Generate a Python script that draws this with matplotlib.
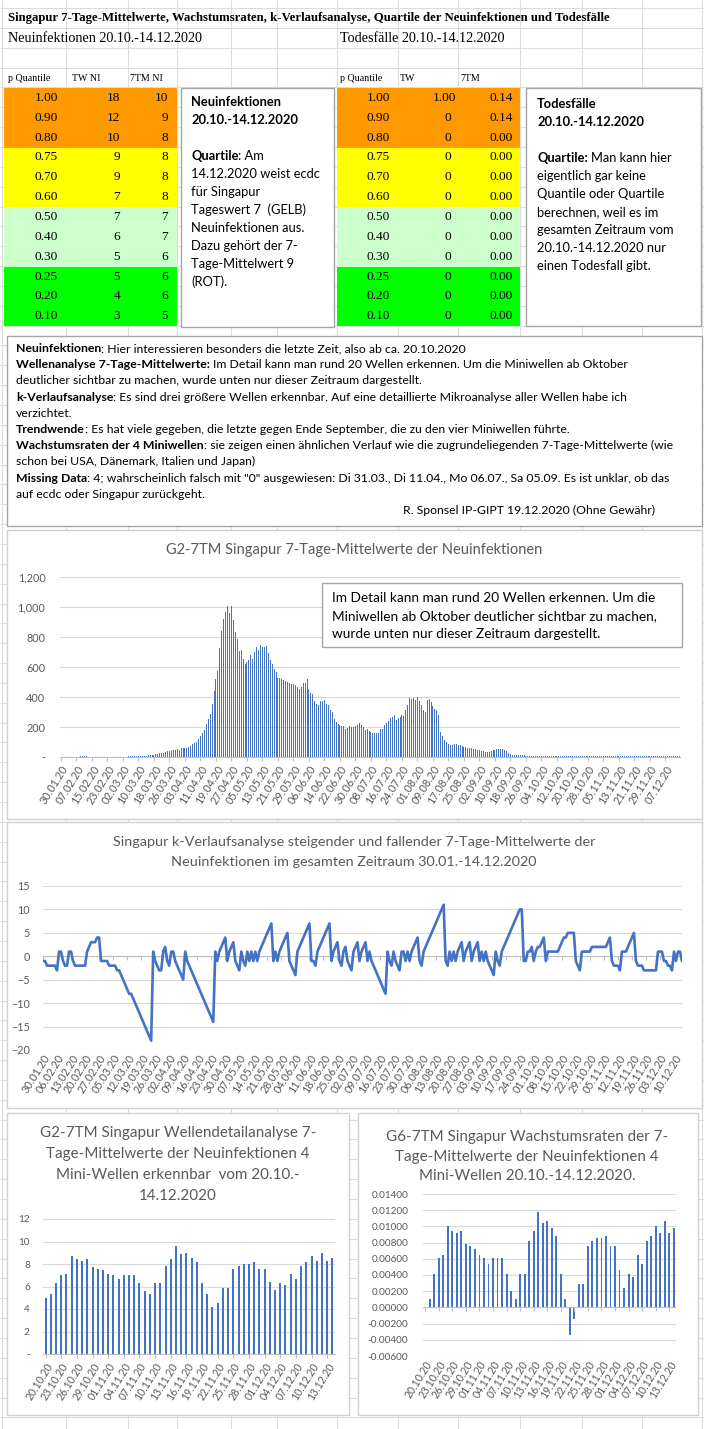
import numpy as np
import pandas as pd
import matplotlib
matplotlib.use('Agg')
import matplotlib.pyplot as plt
from matplotlib.patches import Rectangle

SANS = ['Lato', 'DejaVu Sans']
SERIF = ['Liberation Serif', 'DejaVu Serif']
plt.rcParams['font.family'] = SANS

BLUE = '#4472C4'
GRID = '#D9D9D9'
TXT = '#595959'
AXLINE = '#BFBFBF'

# ---------------- data ----------------
# quantile tables
p_quant = [1.00, 0.90, 0.80, 0.75, 0.70, 0.60, 0.50, 0.40, 0.30, 0.25, 0.20, 0.10]
tw_ni = [18, 12, 10, 9, 9, 7, 7, 6, 5, 5, 4, 3]
tm7_ni = [10, 9, 8, 8, 8, 8, 7, 7, 6, 6, 6, 5]
tw_death = ['1.00', '0', '0', '0', '0', '0', '0', '0', '0', '0', '0', '0']
tm7_death = [0.14, 0.14, 0.00, 0.00, 0.00, 0.00, 0.00, 0.00, 0.00, 0.00, 0.00, 0.00]
band_colors = ['#FF9900'] * 3 + ['#FFFF00'] * 3 + ['#CCFFCC'] * 3 + ['#00FF00'] * 3

# 7-Tage-Mittelwerte 30.01. - 19.10.2020
tm7_early = [
    2, 2, 2, 2, 3, 3, 3, 3, 3, 3,
    4, 4, 4, 4, 3, 3, 3, 3, 3, 2,
    2, 2, 2, 2, 1, 1, 1, 1, 1, 1,
    2, 2, 2, 2, 3, 4, 4, 5, 5, 6,
    9, 9, 10, 10, 10, 11, 11, 12, 15, 18,
    22, 25, 28, 30, 33, 37, 40, 45, 48, 50,
    52, 50, 58, 62, 60, 58, 68, 75, 85, 95,
    100, 120, 140, 157, 179, 221, 251, 289, 353, 438,
    518, 573, 724, 840, 918, 967, 1007, 960, 1007, 911,
    836, 784, 707, 711, 651, 622, 633, 644, 678, 656,
    700, 733, 711, 747, 733, 736, 740, 696, 650, 620,
    590, 565, 530, 528, 520, 512, 506, 503, 492, 485,
    485, 481, 464, 455, 470, 492, 496, 520, 451, 428,
    421, 374, 353, 349, 374, 374, 379, 353, 349, 315,
    298, 251, 234, 219, 215, 210, 204, 187, 194, 204,
    200, 198, 208, 215, 226, 213, 200, 179, 187, 172,
    166, 162, 162, 162, 162, 187, 187, 215, 230, 243,
    257, 268, 281, 247, 257, 264, 277, 272, 315, 349,
    391, 385, 396, 379, 400, 374, 349, 311, 300, 379,
    385, 364, 343, 321, 315, 283, 166, 140, 115, 100,
    90, 82, 80, 85, 85, 82, 78, 72, 68, 65,
    62, 60, 58, 55, 52, 48, 45, 42, 38, 35,
    35, 36, 40, 45, 50, 55, 56, 56, 54, 50,
    40, 28, 20, 16, 14, 13, 12, 12, 11, 11,
    10, 10, 10, 9, 9, 9, 8, 8, 8, 8,
    8, 7, 7, 7, 7, 6, 6, 5, 5, 4,
    4, 4, 4, 5,
]
# 7-Tage-Mittelwerte 20.10. - 14.12.2020
tm7_oct_dec = [
    5.00, 5.29, 6.29, 7.00, 7.14, 8.71, 8.43, 8.29, 8.43, 7.71,
    7.57, 7.43, 7.14, 7.00, 6.71, 7.00, 7.00, 7.00, 6.29, 5.57,
    5.29, 6.29, 6.29, 7.86, 8.43, 9.57, 8.86, 9.00, 8.57, 8.14,
    6.29, 5.29, 4.14, 4.57, 5.86, 5.86, 7.57, 7.86, 8.00, 8.00,
    8.14, 7.57, 7.57, 6.43, 5.71, 6.29, 6.14, 7.14, 6.71, 7.86,
    8.14, 8.71, 8.29, 9.00, 8.29, 8.57,
]
# Wachstumsraten 20.10. - 14.12.2020
growth = [
    0.0, 0.00103, 0.00412, 0.00613, 0.00646, 0.01008, 0.00947, 0.00922, 0.00947, 0.00786,
    0.00761, 0.00724, 0.00646, 0.00613, 0.00539, 0.00613, 0.00613, 0.00613, 0.00412, 0.00202,
    0.00103, 0.00412, 0.00412, 0.00819, 0.00947, 0.01181, 0.01041, 0.01066, 0.00979, 0.00881,
    0.00412, 0.00103, -0.00342, -0.00148, 0.00288, 0.00288, 0.00757, 0.00819, 0.00860, 0.00860,
    0.00881, 0.00757, 0.00757, 0.00461, 0.00239, 0.00412, 0.00374, 0.00646, 0.00539, 0.00819,
    0.00881, 0.01008, 0.00922, 0.01066, 0.00922, 0.00979,
]
# k-Verlaufsanalyse 30.01. - 14.12.2020
k_values = [
    -1, -1, -2, -2, -2, -2, -2, -3, 1, 1,
    -1, -2, -2, 1, 1, -1, -2, -2, -2, -2,
    -2, -2, 1, 2, 3, 3, 3, 4, 4, -1,
    -1, -1, -1, -2, -2, -2, -2, -3, -3, -4,
    -5, -6, -7, -8, -8, -9, -10, -11, -12, -13,
    -14, -15, -16, -17, -18, 1, -1, -2, -3, -3,
    1, 2, -1, -2, 1, 1, -1, -2, -3, -4,
    -5, 1, -1, -2, -3, -4, -5, -6, -7, -8,
    -9, -10, -11, -12, -13, -14, 1, -1, 1, 2,
    3, 4, -1, 1, 2, 3, -1, -2, -3, 1,
    -1, -2, 1, -1, 1, -1, 1, -1, 1, 2,
    3, 4, 5, 6, 7, -1, 1, -1, 1, 2,
    3, 4, 5, -1, -2, -3, -4, 1, 2, 3,
    4, 5, 6, 7, -1, -1, -2, 1, 2, 3,
    4, 5, 6, 7, -1, 1, 2, 3, -1, -2,
    1, 2, -1, -2, -3, 1, 2, 3, -1, 1,
    2, 3, -1, 1, -1, -2, -3, -4, -5, -6,
    -7, -8, 1, -1, -2, 1, -1, -2, -3, 1,
    1, -1, 1, -1, 1, 2, 3, 4, -1, -2,
    1, 2, 3, 4, 5, 6, 7, 8, 9, 10,
    11, -1, -2, 1, -1, 1, -1, 1, 2, 3,
    -1, 1, 2, 3, -1, 1, 2, 3, -1, 1,
    -1, 1, -1, -2, -3, -4, 1, -1, -2, 1,
    2, 3, 4, 5, 6, 7, 8, 9, 10, 10,
    -1, -1, 1, 1, 2, -1, 1, 2, 2, 3,
    4, -1, 1, 1, 1, 1, 1, 1, 2, 3,
    4, 4, 5, 5, 5, 5, -1, -2, -3, 1,
    1, 1, 1, 1, 2, 2, 2, 2, 2, 2,
    2, 2, 3, 4, -1, -2, -2, -2, -3, 1,
    1, 1, 2, 3, 4, 5, -1, -2, -2, -2,
    -3, -3, -3, -3, -3, -3, -3, 1, 1, 1,
    -1, -1, -2, -2, -3, 1, -1, 1, 1, -1,
]
tm7_all = tm7_early + tm7_oct_dec
dates_all = pd.date_range('2020-01-30', '2020-12-14').strftime('%d.%m.%y').tolist()
dates_oct_dec = dates_all[-len(tm7_oct_dec):]

title_main = ('Singapur 7-Tage-Mittelwerte, Wachstumsraten, k-Verlaufsanalyse, '
              'Quartile der Neuinfektionen und Todesfälle')
note_lines = [
    [('Neuinfektionen', True), (': Hier interessieren besonders die letzte Zeit, also ab ca. 20.10.2020', False)],
    [('Wellenanalyse 7-Tage-Mittelwerte:', True), (' Im Detail kann man rund 20 Wellen erkennen. Um die Miniwellen ab Oktober', False)],
    [('deutlicher sichtbar zu machen, wurde unten nur dieser Zeitraum dargestellt.', False)],
    [('k-Verlaufsanalyse', True), (': Es sind drei größere Wellen erkennbar. Auf eine detaillierte Mikroanalyse aller Wellen habe ich', False)],
    [('verzichtet.', False)],
    [('Trendwende', True), (': Es hat viele gegeben, die letzte gegen Ende September, die zu den vier Miniwellen führte.', False)],
    [('Wachstumsraten der 4 Miniwellen', True), (': sie zeigen einen ähnlichen Verlauf wie die zugrundeliegenden 7-Tage-Mittelwerte (wie', False)],
    [('schon bei USA, Dänemark, Italien und Japan)', False)],
    [('Missing Data', True), (': 4; wahrscheinlich falsch mit "0" ausgewiesen: Di 31.03., Di 11.04., Mo 06.07., Sa 05.09. Es ist unklar, ob das', False)],
    [('auf ecdc oder Singapur zurückgeht.', False)],
]
left_box_lines = [
    [('Neuinfektionen', True)],
    [('20.10.-14.12.2020', True)],
    [],
    [('Quartile', True), (': Am', False)],
    [('14.12.2020 weist ecdc', False)],
    [('für Singapur', False)],
    [('Tageswert 7  (GELB)', False)],
    [('Neuinfektionen aus.', False)],
    [('Dazu gehört der 7-', False)],
    [('Tage-Mittelwert 9', False)],
    [('(ROT).', False)],
]
right_box_lines = [
    [('Todesfälle', True)],
    [('20.10.-14.12.2020', True)],
    [],
    [('Quartile:', True), (' Man kann hier', False)],
    [('eigentlich gar keine', False)],
    [('Quantile oder Quartile', False)],
    [('berechnen, weil es im', False)],
    [('gesamten Zeitraum vom', False)],
    [('20.10.-14.12.2020 nur', False)],
    [('einen Todesfall gibt.', False)],
]

# ---------------- figure ----------------
W, H = 704, 1429
fig = plt.figure(figsize=(W / 100, H / 100), dpi=100)
bg = fig.add_axes([0, 0, 1, 1])
bg.set_xlim(0, W)
bg.set_ylim(H, 0)
bg.axis('off')


def px_axes(x0, y0, x1, y1):
    return fig.add_axes([x0 / W, 1 - y1 / H, (x1 - x0) / W, (y1 - y0) / H])


# spreadsheet grid
col_lines = [2, 66, 128, 177, 231, 277, 337, 398, 458, 520, 582, 642, 702]
row_lines = np.arange(8, H, 19.85)
bg.vlines(col_lines, 0, H, color='#DCDCDC', lw=0.8, zorder=0)
bg.hlines(row_lines, 0, W, color='#DCDCDC', lw=0.8, zorder=0)

# coloured quantile tables
ROW0, ROWH = 88, 19.85
for k, c in enumerate(band_colors):
    for x0, x1 in [(4, 177), (337, 520)]:
        bg.add_patch(Rectangle((x0, ROW0 + k * ROWH), x1 - x0, ROWH, fc=c, ec='none', zorder=1))

# white boxes
for (x0, y0, x1, y1) in [(181, 88, 334, 327), (526, 88, 701, 326), (7, 336, 702, 526)]:
    bg.add_patch(Rectangle((x0, y0), x1 - x0, y1 - y0, fc='white', ec='#A6A6A6', lw=1, zorder=2))
for (x0, y0, x1, y1) in [(7, 530, 702, 819), (7, 822, 702, 1108), (7, 1113, 349, 1415), (358, 1113, 698, 1415)]:
    bg.add_patch(Rectangle((x0, y0), x1 - x0, y1 - y0, fc='white', ec='#D0D0D0', lw=1, zorder=2))

TICK_FS = 7.8


def style_axes(ax, ypad, fs=TICK_FS):
    for s in ['top', 'right', 'left']:
        ax.spines[s].set_visible(False)
    ax.spines['bottom'].set_color(AXLINE)
    ax.yaxis.grid(True, color=GRID, lw=0.8)
    ax.set_axisbelow(True)
    ax.tick_params(axis='y', length=0, pad=ypad, labelsize=fs, labelcolor=TXT)
    ax.tick_params(axis='x', length=3, color=AXLINE, labelsize=fs, labelcolor=TXT, pad=2)


def date_ticks(ax, pos, labels, fs=TICK_FS):
    ax.set_xticks(pos)
    ax.set_xticklabels(labels, rotation=58, ha='right', va='top', rotation_mode='anchor', fontsize=fs)


# ---- chart 1: 7-Tage-Mittelwerte gesamt ----
ax1 = px_axes(60, 577, 680, 757)
x1 = np.arange(len(tm7_all))
ax1.bar(x1, tm7_all, width=0.5, color=BLUE, linewidth=0)
ax1.set_xlim(-0.5, len(tm7_all) - 0.5)
ax1.set_ylim(0, 1200)
yt = list(range(0, 1201, 200))
ax1.set_yticks(yt)
ax1.set_yticklabels(['-' if v == 0 else f'{v:,}' for v in yt])
style_axes(ax1, 10.5)
date_ticks(ax1, x1[::8], dates_all[::8])

# ---- chart 2: k-Verlaufsanalyse ----
ax2 = px_axes(43, 886, 682, 1050)
x2 = np.arange(len(k_values))
ax2.plot(x2, k_values, color=BLUE, lw=1.9, solid_joinstyle='round')
ax2.set_xlim(0, len(k_values) - 1)
ax2.set_ylim(-20, 15)
ax2.set_yticks(range(-20, 16, 5))
style_axes(ax2, 9.5)
ax2.spines['bottom'].set_visible(False)
ax2.tick_params(axis='x', length=0)
date_ticks(ax2, x2[::7], dates_all[::7])
ax2.axhline(0, color=AXLINE, lw=0.8, zorder=1)
ax2.plot(x2[::7], np.zeros(len(x2[::7])), ls='none', marker=3, ms=3, mec=AXLINE, mew=0.8, zorder=1)

# ---- chart 3: Wellendetail ----
ax3 = px_axes(43, 1219, 335, 1354)
x3 = np.arange(len(tm7_oct_dec))
ax3.bar(x3, tm7_oct_dec, width=0.38, color=BLUE, linewidth=0)
ax3.set_xlim(-0.5, len(tm7_oct_dec) - 0.5)
ax3.set_ylim(0, 12)
yt3 = list(range(0, 13, 2))
ax3.set_yticks(yt3)
ax3.set_yticklabels(['-' if v == 0 else str(v) for v in yt3])
style_axes(ax3, 9.5, 7.2)
date_ticks(ax3, x3[::3], dates_oct_dec[::3], 7.6)

# ---- chart 4: Wachstumsraten ----
ax4 = px_axes(423, 1194, 676, 1356)
x4 = np.arange(len(growth))
ax4.bar(x4, growth, width=0.42, color=BLUE, linewidth=0)
ax4.set_xlim(-0.5, len(growth) - 0.5)
ax4.set_ylim(-0.006, 0.014)
yt4 = np.arange(-0.006, 0.01401, 0.002)
ax4.set_yticks(yt4)
ax4.set_yticklabels([f'{v:.5f}' for v in yt4])
style_axes(ax4, 10.5, 7.2)
ax4.spines['bottom'].set_visible(False)
ax4.tick_params(axis='x', length=0)
date_ticks(ax4, x4[::3], dates_oct_dec[::3], 7.6)
ax4.axhline(0, color=AXLINE, lw=0.8, zorder=1)
ax4.plot(x4[::3], np.zeros(len(x4[::3])), ls='none', marker=3, ms=3, mec=AXLINE, mew=0.8, zorder=1)

# ---------------- text overlay ----------------
ov = fig.add_axes([0, 0, 1, 1])
ov.set_xlim(0, W)
ov.set_ylim(H, 0)
ov.axis('off')
rend = fig.canvas.get_renderer()


def text_w(s, fs, bold, family):
    t = ov.text(0, 0, s, fontsize=fs, fontweight='bold' if bold else 'normal', family=family)
    w = t.get_window_extent(renderer=rend).width
    t.remove()
    return w


def rich(x, y, parts, fs, family=SANS, color='black'):
    for s, bold in parts:
        if s.startswith(' '):
            s = s.lstrip(' ')
            x += text_w('a a', fs, bold, family) - text_w('aa', fs, bold, family)
        t = ov.text(x, y, s, fontsize=fs, fontweight='bold' if bold else 'normal',
                    family=family, color=color, ha='left', va='center')
        x += t.get_window_extent(renderer=rend).width


# header
ov.text(8, 18, title_main, family=SERIF, fontweight='bold', fontsize=9.2, va='center')
ov.text(8, 38, 'Neuinfektionen 20.10.-14.12.2020', family=SERIF, fontsize=10.2, va='center')
ov.text(340, 38, 'Todesfälle 20.10.-14.12.2020', family=SERIF, fontsize=10.2, va='center')
for x, s in [(8, 'p Quantile'), (72, 'TW NI'), (130, '7TM NI'), (340, 'p Quantile'), (400, 'TW'), (460, '7TM')]:
    ov.text(x, 78, s, family=SERIF, fontsize=7.2, va='center')

# table values
for k in range(len(p_quant)):
    yy = ROW0 + (k + 0.5) * ROWH
    kw = dict(family=SERIF, fontsize=9.6, va='center', ha='right')
    ov.text(58, yy, f'{p_quant[k]:.2f}', **kw)
    ov.text(120, yy, str(tw_ni[k]), **kw)
    ov.text(168, yy, str(tm7_ni[k]), **kw)
    ov.text(390, yy, f'{p_quant[k]:.2f}', **kw)
    ov.text(456 if tw_death[k] != '0' else 451, yy, tw_death[k], **kw)
    ov.text(513, yy, f'{tm7_death[k]:.2f}', **kw)

# side boxes
for k, parts in enumerate(left_box_lines):
    if parts:
        rich(191, 102 + k * 18.0, parts, 9.3)
for k, parts in enumerate(right_box_lines):
    if parts:
        rich(537, 104 + k * 18.0, parts, 9.3)

# note box
for k, parts in enumerate(note_lines):
    rich(16, 348.5 + k * 16.2, parts, 8.8)
ov.text(655, 510.5, 'R. Sponsel IP-GIPT 19.12.2020 (Ohne Gewähr)', fontsize=8.8, ha='right', va='center')

# chart titles
CT = dict(ha='center', va='center', color=TXT)
ov.text(354, 550, 'G2-7TM Singapur 7-Tage-Mittelwerte der Neuinfektionen', fontsize=10.5, **CT)
ov.text(354, 842, 'Singapur k-Verlaufsanalyse steigender und fallender 7-Tage-Mittelwerte der', fontsize=10.4, **CT)
ov.text(354, 862, 'Neuinfektionen im gesamten Zeitraum 30.01.-14.12.2020', fontsize=10.4, **CT)
for k, s in enumerate(['G2-7TM Singapur Wellendetailanalyse 7-', 'Tage-Mittelwerte der Neuinfektionen 4',
                       'Mini-Wellen erkennbar  vom 20.10.-', '14.12.2020']):
    ov.text(178, 1133 + k * 21, s, fontsize=10.9, **CT)
for k, s in enumerate(['G6-7TM Singapur Wachstumsraten der 7-', 'Tage-Mittelwerte der Neuinfektionen 4',
                       'Mini-Wellen 20.10.-14.12.2020.']):
    ov.text(527, 1137 + k * 19.5, s, fontsize=10.9, **CT)

# annotation inside chart 1
ov.add_patch(Rectangle((322, 583), 360, 64, fc='white', ec='#A6A6A6', lw=1))
for k, s in enumerate(['Im Detail kann man rund 20 Wellen erkennen. Um die',
                       'Miniwellen ab Oktober deutlicher sichtbar zu machen,',
                       'wurde unten nur dieser Zeitraum dargestellt.']):
    ov.text(332, 598 + k * 18, s, fontsize=9.8, va='center')

fig.savefig('out.png', dpi=100)
